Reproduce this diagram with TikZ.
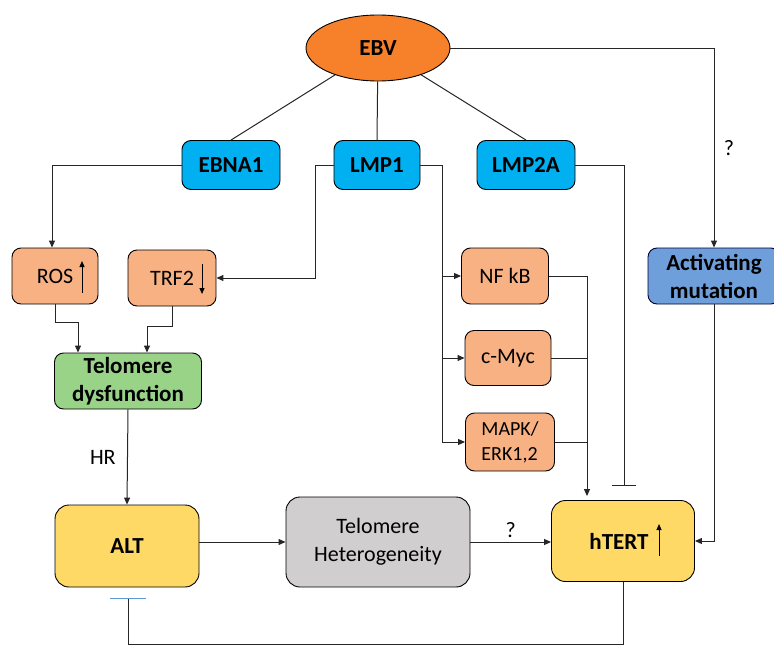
\documentclass[tikz,border=0pt]{standalone}
\usepackage{fontspec}
\setmainfont{Carlito}
\usetikzlibrary{arrows.meta,calc,shapes.geometric}
\definecolor{ebvorange}{HTML}{F7802A}
\definecolor{lmpblue}{HTML}{00B0F0}
\definecolor{salmon}{HTML}{F8B183}
\definecolor{tdgreen}{HTML}{98D387}
\definecolor{altyellow}{HTML}{FFD966}
\definecolor{thgray}{HTML}{D0CECE}
\definecolor{amblue}{HTML}{6F9FDA}
\definecolor{barblue}{HTML}{5B9BD5}
\begin{document}
\begin{tikzpicture}[x=1pt,y=-1pt,
  box/.style={draw=black, line width=0.9pt, rounded corners=9pt, align=center, inner sep=0pt},
  bfont/.style={font=\bfseries\fontsize{23}{28}\selectfont},
  rfont/.style={font=\fontsize{22}{28}\selectfont},
  conn/.style={line width=1pt, draw=black!85},
  arr/.style={conn, -{Triangle[length=7pt,width=6pt]}},
  inh/.style={conn, -{Bar[width=24pt,line width=1pt]}},
  updn/.style={line width=1pt, -{Triangle[length=6pt,width=5pt]}}]
\useasboundingbox (0,0) rectangle (774,648);
\begin{scope}
\clip (0,0) rectangle (774,648);
% nodes
\node[ellipse, draw=black, line width=0.9pt, fill=ebvorange, minimum width=144pt, minimum height=66pt, inner sep=0pt, bfont] (ebv) at (378,48) {EBV};
\node[box, fill=lmpblue, minimum width=98pt, minimum height=49pt, bfont] (ebna1) at (231,165) {EBNA1};
\node[box, fill=lmpblue, minimum width=86pt, minimum height=49pt, bfont] (lmp1) at (377,165) {LMP1};
\node[box, fill=lmpblue, minimum width=98pt, minimum height=49pt, bfont] (lmp2a) at (526,165) {LMP2A};
\node[box, fill=amblue, draw=black!80!blue, minimum width=132pt, minimum height=56pt, bfont] (actmut) at (714,276) {Activating\\mutation};
\node[box, fill=salmon, minimum width=86pt, minimum height=56pt, rfont] (ros) at (55,276) {ROS};
\node[box, fill=salmon, minimum width=88pt, minimum height=56pt, rfont] (trf2) at (172,278) {TRF2};
\node[box, fill=salmon, minimum width=87pt, minimum height=56pt, rfont] (nfkb) at (505,276) {NF kB};
\node[box, fill=salmon, minimum width=86pt, minimum height=55pt, rfont] (cmyc) at (508,358) {c-Myc};
\node[box, fill=salmon, minimum width=89pt, minimum height=58pt, align=left, font=\fontsize{20}{25}\selectfont] (mapk) at (510,442) {MAPK/\\ERK1,2};
\node[box, fill=tdgreen, minimum width=147pt, minimum height=56pt, bfont] (td) at (128,381) {Telomere\\dysfunction};
\node[box, fill=altyellow, minimum width=144pt, minimum height=82pt, rounded corners=14pt, bfont] (alt) at (127,546) {ALT};
\node[box, fill=thgray, minimum width=184pt, minimum height=90pt, rounded corners=14pt, rfont] (th) at (378,542) {Telomere\\Heterogeneity};
\node[box, fill=altyellow, minimum width=143pt, minimum height=81pt, rounded corners=14pt, bfont] (htert) at (623,541) {hTERT\hspace{8pt}};
% small up/down arrows
\draw[updn] ($(ros.center)+(27,17)$) -- ++(0,-32);
\draw[updn] ($(trf2.center)+(30,-14)$) -- ++(0,30);
\draw[updn] ($(htert.center)+(36,15)$) -- ++(0,-32);
\end{scope}
% connectors from EBV
\draw[conn] (ebv) -- (ebna1.north);
\draw[conn] (ebv) -- (lmp1.north);
\draw[conn] (ebv) -- (lmp2a.north);
\draw[arr] (ebv.east) -| (actmut.north) node[pos=0.75, right=6pt, rfont] (q1) {?};
% EBNA1 -> ROS
\draw[arr] (ebna1.west) -| ($(ros.north)+(-3,0)$);
% LMP1 -> TRF2
\draw[arr] (lmp1.west) -- ++(-18,0) |- (trf2.east);
% ROS, TRF2 -> telomere dysfunction
\draw[arr] (ros.south) -- ++(0,18) -| ($(td.north)+(-50,0)$);
\draw[arr] (trf2.south) -- ++(0,20) -| ($(td.north)+(19,0)$);
% TD -> ALT
\draw[arr] (td.south) -- (alt.north) node[midway, left=8pt, rfont] (hr) {HR};
% ALT -> TH -> hTERT
\draw[arr] (alt.east |- th.west) -- (th.west);
\draw[arr] (th.east) -- (th.east -| htert.west) node[midway, above=1pt, rfont] (q2) {?};
% LMP1 -> NFkB, c-Myc, MAPK
\coordinate (lb) at ($(lmp1.east)+(22,0)$);
\draw[arr] (lmp1.east) -- (lb) |- (nfkb.west);
\draw[arr] (lb) |- (cmyc.west);
\draw[arr] (lb) |- (mapk.west);
% NFkB, c-Myc, MAPK -> hTERT
\coordinate (hin) at ($(htert.north)+(-36,-4)$);
\draw[arr] (nfkb.east) -| (hin);
\draw[conn] (cmyc.east) -- (cmyc.east -| hin);
\draw[conn] (mapk.east) -- (mapk.east -| hin);
% LMP2A -| hTERT
\draw[inh] (lmp2a.east) -| ($(htert.north)+(1,-14)$);
% Activating mutation -> hTERT
\draw[arr] (actmut.south) |- (htert.east);
% hTERT -| ALT
\coordinate (altbar) at ($(alt.south)+(1,11)$);
\draw[conn] (htert.south) -- ++(0,63) -| (altbar);
\draw[barblue, line width=1.2pt] ($(altbar)+(-18,0)$) -- ($(altbar)+(18,0)$);
\end{tikzpicture}
\end{document}
